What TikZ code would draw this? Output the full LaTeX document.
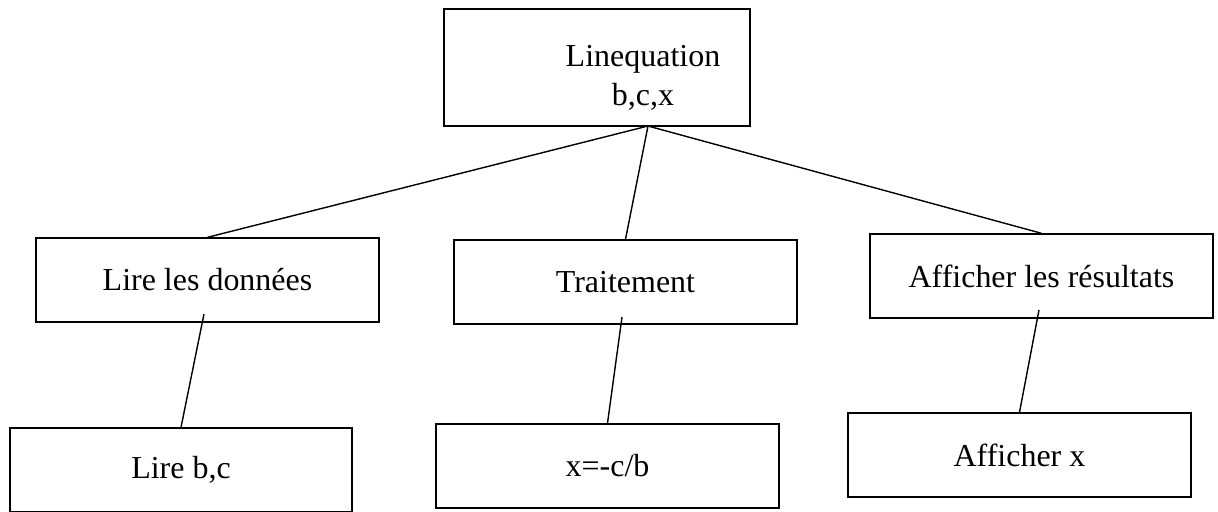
\documentclass[tikz,border=0pt]{standalone}
\usepackage{fontspec}
\setmainfont{Liberation Serif}
\tikzset{
  box/.style={draw, line width=0.8pt, inner sep=0pt, align=center,
    minimum width=6.86cm, minimum height=1.68cm,
    font=\fontsize{18.2}{21}\selectfont},
  link/.style={line width=0.8pt},
}
\begin{document}
\begin{tikzpicture}[x=0.02cm, y=-0.02cm]
  \useasboundingbox (0,0) rectangle (1218,511);
  % racine
  \node[box, minimum width=6.12cm, minimum height=2.34cm] (root) at (597,67.5) {};
  \node[font=\fontsize{18.2}{22}\selectfont, align=center, inner sep=0pt] (rootTxt) at (643,78) {Linequation\\b,c,x};
  \coordinate (hub) at (648,126);
  % niveau 1
  \node[box] (lire) at (207.5,280) {Lire les données};
  \node[box] (trait) at (625.5,282) {Traitement};
  \node[box] (aff) at (1041.5,276) {Afficher les résultats};
  % niveau 2
  \node[box, minimum width=6.84cm] (lireBC) at (181,470) {Lire b,c};
  \node[box] (calc) at (607.5,466) {x=-c/b};
  \node[box] (affX) at (1019.5,455) {Afficher x};
  \coordinate (lireOut) at (204,314);
  \coordinate (traitOut) at (622,317);
  \coordinate (affOut) at (1039,310);
  % liaisons
  \draw[link] (hub) -- (lire.north);
  \draw[link] (hub) -- (trait.north);
  \draw[link] (hub) -- (aff.north);
  \draw[link] (lireOut) -- (lireBC.north);
  \draw[link] (traitOut) -- (calc.north);
  \draw[link] (affOut) -- (affX.north);
\end{tikzpicture}
\end{document}
